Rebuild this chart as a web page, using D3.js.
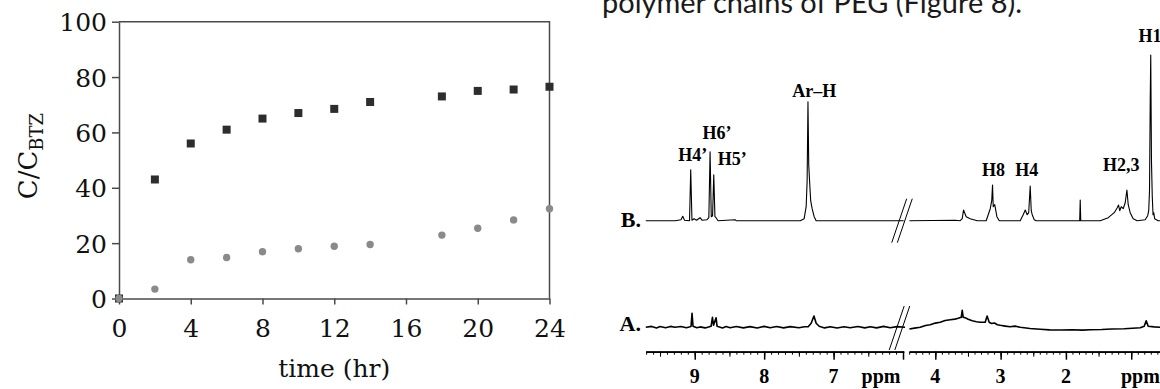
<!DOCTYPE html>
<html>
<head>
<meta charset="utf-8">
<script src="https://cdn.jsdelivr.net/npm/d3@7"></script>
<style>
  body { margin: 0; background: #fff; }
  svg { display: block; }
</style>
</head>
<body>
<svg id="fig" width="1160" height="389"></svg>
<script>
// ---- left panel: release vs time ----
var hours = [0, 2, 4, 6, 8, 10, 12, 14, 18, 20, 22, 24];
var squareVals = [0, 43, 56, 61, 65, 67, 68.5, 71, 73, 75, 75.5, 76.5];
var circleVals = [0, 3.4, 14, 14.8, 16.9, 18, 18.9, 19.5, 22.9, 25.4, 28.4, 32.4];
var xTicks = [0, 4, 8, 12, 16, 20, 24];
var yTicks = [0, 20, 40, 60, 80, 100];

// ---- right panel: 1H NMR, [ppm, intensity] ----
var specBLeft = [[9.705,0],[9.28,0],[9.198,1],[9.173,4.5],[9.147,0.5],[9.075,0],[9.058,51],[9.04,0.5],[9.01,2],
  [8.974,0.5],[8.924,3],[8.895,0.5],[8.823,1],[8.797,3],[8.779,69],[8.762,4],[8.743,5],[8.726,46],[8.709,4],
  [8.693,3],[8.664,0],[8.419,1],[8.404,0],[7.48,0],[7.424,2],[7.395,14],[7.381,40],[7.369,119],[7.358,56],
  [7.346,40],[7.33,20],[7.309,12],[7.28,4],[7.251,0],[5.99,0]];
var specBRight = [[4.397,0],[3.695,0.5],[3.619,0],[3.588,2],[3.568,10.7],[3.527,4],[3.466,2],[3.358,0],
  [3.221,0],[3.19,6],[3.159,12],[3.136,20],[3.124,35.7],[3.113,14],[3.09,16],[3.057,4],[3.021,0],
  [2.7,0],[2.654,6],[2.623,10.7],[2.593,6],[2.57,8],[2.547,34.7],[2.531,10],[2.516,6],[2.485,1],[2.455,0],
  [1.789,0],[1.781,20.7],[1.773,0],[1.475,0],[1.352,3],[1.26,8],[1.214,13],[1.194,15.7],[1.176,10],
  [1.153,14],[1.123,12],[1.092,18],[1.066,30.7],[1.046,16],[1.016,8],[0.97,2],[0.909,0],[0.786,1],
  [0.748,5],[0.732,10],[0.72,30],[0.709,120],[0.701,165.7],[0.69,60],[0.678,25],[0.666,6],[0.655,8],
  [0.641,2],[0.588,0],[0.3,0]];
var specALeft = [[9.705,0],[9.62,0.9],[9.55,-0.6],[9.5,0.8],[9.42,-0.5],[9.35,0.9],[9.284,0],[9.2,0.8],
  [9.12,-0.4],[9.068,0.5],[9.053,1],[9.039,14],[9.025,1],[8.97,-0.5],[8.924,0.4],[8.85,-0.6],
  [8.765,1],[8.745,10],[8.729,2],[8.693,9.6],[8.678,1],[8.6,-0.6],[8.55,0.7],[8.49,-0.5],[8.4,0.8],
  [8.3,-0.6],[8.203,0.7],[8.1,-0.7],[8.0,0.9],[7.914,-0.5],[7.82,0.8],[7.72,-0.6],[7.626,0.7],[7.5,-0.4],
  [7.42,0.6],[7.366,0.5],[7.323,4],[7.283,11.3],[7.251,4],[7.208,1],[7.13,-0.6],[7.049,0.6],[6.95,-0.7],
  [6.85,0.6],[6.761,-0.5],[6.65,0.8],[6.55,-0.6],[6.472,0.5],[6.38,-0.6],[6.28,0.9],[6.184,-0.4],
  [6.09,0.7],[5.97,0]];
var specARight = [[4.397,-1.7],[4.32,-0.8],[4.231,0],[4.15,1.8],[4.078,2.5],[4.0,4.2],[3.925,5],[3.85,6.8],
  [3.772,7.5],[3.7,8.2],[3.649,9],[3.603,10],[3.588,17],[3.573,10],[3.53,9.2],[3.497,8],[3.435,6.6],
  [3.37,5.6],[3.313,5],[3.236,5],[3.207,11.3],[3.175,5],[3.14,3.8],[3.093,4.3],[3.05,2.6],[3.006,2],
  [2.93,1.2],[2.853,0.5],[2.78,1.2],[2.7,0],[2.55,-1.2],[2.394,-2],[2.25,-2.6],[2.072,-2.7],[1.9,-2.4],
  [1.75,-2.8],[1.628,-2.5],[1.45,-2.2],[1.3,-1.7],[1.107,-1.4],[0.98,-1.0],[0.862,-0.5],[0.801,1],
  [0.771,6.6],[0.74,1],[0.65,0.4],[0.556,0],[0.3,0]];
var peakNames = ["H4\u2019", "H6\u2019", "H5\u2019", "Ar\u2013H", "H8", "H4", "H2,3", "H1"];
var peakPpm = [9.03, 8.68, 8.46, 7.28, 3.109, 2.599, 1.152, 0.714];
var peakLabelH = [59.7, 81.7, 55.7, 123.7, 44.7, 44.7, 49.7, 178.7];
var ppmLabelsLeft = [9, 8, 7];
var ppmLabelsRight = [4, 3, 2];

var svg = d3.select("#fig");
svg.append("rect").attr("width", 1160).attr("height", 389).attr("fill", "#fff");

// ================= left chart =================
var margin = {top: 21.7, left: 119, right: 549.5, bottom: 298.5};
var x = d3.scaleLinear().domain([0, 24]).range([margin.left, margin.right]);
var y = d3.scaleLinear().domain([0, 100]).range([margin.bottom, margin.top]);
var axisColor = "#4a4a4a";
var serif = "'DejaVu Serif', serif";

var gx = svg.append("g")
    .attr("transform", "translate(0," + margin.bottom + ")")
    .call(d3.axisBottom(x).tickValues(xTicks).tickSize(6).tickSizeOuter(0).tickPadding(15));
var gy = svg.append("g")
    .attr("transform", "translate(" + margin.left + ",0)")
    .call(d3.axisLeft(y).tickValues(yTicks).tickSize(7).tickSizeOuter(0).tickPadding(5));
[gx, gy].forEach(function(g) {
  g.selectAll("path,line").attr("stroke", axisColor).attr("stroke-width", 1.5);
  g.selectAll("text").attr("font-family", serif).attr("font-size", 25).attr("fill", "#111");
});
gy.selectAll("text").attr("dy", "0.36em");

// frame top and right
svg.append("path")
    .attr("d", "M" + x(0) + "," + y(100) + "H" + x(24) + "V" + y(0))
    .attr("fill", "none").attr("stroke", axisColor).attr("stroke-width", 1.5);

svg.append("g").selectAll("rect")
    .data(hours)
    .join("rect")
    .attr("x", function(d) { return x(d) - 4; })
    .attr("y", function(d, i) { return y(squareVals[i]) - 4; })
    .attr("width", 8).attr("height", 8)
    .attr("fill", "#2d2d2d");

svg.append("g").selectAll("circle")
    .data(hours)
    .join("circle")
    .attr("cx", function(d) { return x(d); })
    .attr("cy", function(d, i) { return y(circleVals[i]); })
    .attr("r", 3.7)
    .attr("fill", "#8a8a8a");

svg.append("text")
    .attr("x", (x(0) + x(24)) / 2).attr("y", 377)
    .attr("text-anchor", "middle")
    .attr("font-family", serif).attr("font-size", 25).attr("fill", "#111")
    .text("time (hr)");

var yt = svg.append("text")
    .attr("transform", "translate(37," + (y(50) - 4) + ") rotate(-90)")
    .attr("text-anchor", "middle")
    .attr("font-family", serif).attr("font-size", 26).attr("fill", "#111");
yt.append("tspan").text("C/C");
yt.append("tspan").attr("dy", 6).attr("font-size", 18).text("BTZ");

// ================= right panel (NMR) =================
var bold = "'Liberation Serif', 'Times New Roman', serif";

svg.append("text")
    .attr("x", 602).attr("y", 13)
    .attr("font-family", "Lato, 'Open Sans', sans-serif").attr("font-size", 28)
    .attr("fill", "#1a1a1a")
    .attr("textLength", 420).attr("lengthAdjust", "spacingAndGlyphs")
    .text("polymer chains of PEG (Figure 8).");

var xL = d3.scaleLinear().domain([9.705, 5.99]).range([645.8, 903.7]);
var xR = d3.scaleLinear().domain([4.4, 0.3]).range([909.2, 909.2 + 4.1 * 65.3]);
var yB = d3.scaleLinear().domain([0, 200]).range([220.7, 20.7]);
var yA = d3.scaleLinear().domain([0, 200]).range([327.3, 127.3]);

function trace(data, xs, ys, w) {
  var line = d3.line()
      .x(function(d) { return xs(d[0]); })
      .y(function(d) { return ys(d[1]); });
  svg.append("path").datum(data)
      .attr("d", line)
      .attr("fill", "none").attr("stroke", "#000")
      .attr("stroke-width", w).attr("stroke-linejoin", "round");
}
trace(specBLeft, xL, yB, 1.1);
trace(specBRight, xR, yB, 1.1);
trace(specALeft, xL, yA, 1.6);
trace(specARight, xR, yA, 1.6);

// peak labels
svg.append("g").selectAll("text")
    .data(peakNames)
    .join("text")
    .attr("x", function(d, i) { return peakPpm[i] > 5 ? xL(peakPpm[i]) : xR(peakPpm[i]); })
    .attr("y", function(d, i) { return yB(peakLabelH[i]); })
    .attr("text-anchor", "middle")
    .attr("font-family", bold).attr("font-weight", "bold").attr("font-size", 18)
    .text(function(d) { return d; });

// trace labels
[["B.", yB(0) + 6], ["A.", yA(0) + 4]].forEach(function(t) {
  svg.append("text").attr("x", 641).attr("y", t[1])
      .attr("text-anchor", "end")
      .attr("font-family", bold).attr("font-weight", "bold").attr("font-size", 22)
      .text(t[0]);
});

// break marks
function breakMark(cx, cy, h) {
  [-2.8, 2.8].forEach(function(o) {
    svg.append("line")
        .attr("x1", cx + o - h * 0.17).attr("y1", cy + h / 2)
        .attr("x2", cx + o + h * 0.17).attr("y2", cy - h / 2)
        .attr("stroke", "#000").attr("stroke-width", 1);
  });
}
breakMark(902, yB(0), 44);
breakMark(899.5, 328, 44);

// ppm axis
var axisY = 351.7;
function ppmAxis(xs, lo, hi) {
  var all = d3.range(Math.round(lo * 10), Math.round(hi * 10) + 1).map(function(v) { return v / 10; });
  var halves = all.filter(function(v) { return Math.abs(v * 2 - Math.round(v * 2)) < 1e-6; });
  var majors = all.filter(function(v) { return Math.abs(v - Math.round(v)) < 1e-6; });
  [[all, 3], [halves, 5], [majors, 8]].forEach(function(s, k) {
    var g = svg.append("g").attr("transform", "translate(0," + axisY + ")")
        .call(d3.axisBottom(xs).tickValues(s[0]).tickSize(s[1]).tickSizeOuter(0).tickFormat(""));
    g.selectAll("line").attr("stroke", "#000").attr("stroke-width", k === 2 ? 1.5 : 1);
    g.select(".domain").attr("stroke", "#000").attr("stroke-width", 1.2);
  });
}
ppmAxis(xL, 6.0, 9.7);
ppmAxis(xR, 0.3, 4.4);

function ppmLabels(vals, xs) {
  svg.append("g").selectAll("text")
      .data(vals)
      .join("text")
      .attr("x", function(d) { return xs(d); })
      .attr("y", 383)
      .attr("text-anchor", "middle")
      .attr("font-family", bold).attr("font-weight", "bold").attr("font-size", 20)
      .text(function(d) { return d; });
}
ppmLabels(ppmLabelsLeft, xL);
ppmLabels(ppmLabelsRight, xR);
svg.append("text").attr("x", 881).attr("y", 383).attr("text-anchor", "middle")
    .attr("font-family", bold).attr("font-weight", "bold").attr("font-size", 20).text("ppm");
svg.append("text").attr("x", 1121).attr("y", 383)
    .attr("font-family", bold).attr("font-weight", "bold").attr("font-size", 20).text("ppm");
</script>
</body>
</html>
